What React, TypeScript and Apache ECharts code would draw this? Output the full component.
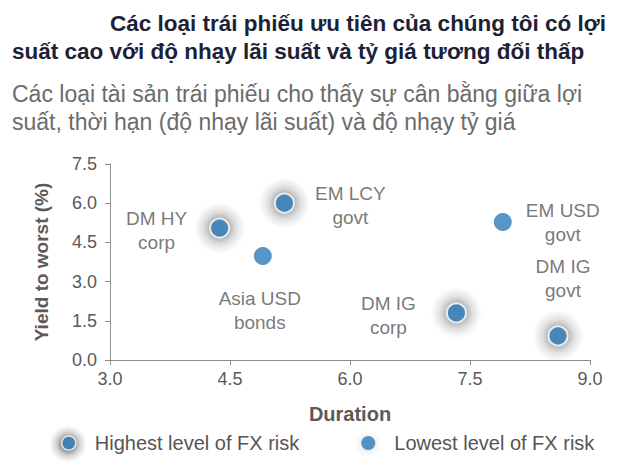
import React, { useEffect, useRef } from "react";
import * as echarts from "echarts";

const titleLines = [
  "Các loại trái phiếu ưu tiên của chúng tôi có lợi",
  "suất cao với độ nhạy lãi suất và tỷ giá tương đối thấp",
];
const subtitleLines = [
  "Các loại tài sản trái phiếu cho thấy sự cân bằng giữa lợi",
  "suất, thời hạn (độ nhạy lãi suất) và độ nhạy tỷ giá",
];

const highNames = ["DM HY\ncorp", "EM LCY\ngovt", "DM IG\ncorp", "DM IG\ngovt"];
const highDuration = [4.37, 5.18, 7.33, 8.6];
const highYield = [5.05, 6.0, 1.8, 0.92];

const lowNames = ["Asia USD\nbonds", "EM USD\ngovt"];
const lowDuration = [4.91, 7.91];
const lowYield = [3.98, 5.28];

const highLabelOffsets = [
  [-63, 2],
  [66, 2],
  [-68, 3],
  [5, -57],
];
const lowLabelOffsets = [
  [-3, 55],
  [60, 0],
];

const seriesNames = ["Highest level of FX risk", "Lowest level of FX risk"];

const FONT = "'Liberation Sans', Arial, sans-serif";
const BLUE = "#2e7cba";

function glow(alpha: number) {
  return new echarts.graphic.RadialGradient(0.5, 0.5, 0.5, [
    { offset: 0, color: `rgba(85,85,85,${alpha})` },
    { offset: 0.35, color: `rgba(85,85,85,${alpha})` },
    { offset: 0.62, color: `rgba(120,120,120,${alpha * 0.5})` },
    { offset: 1, color: "rgba(160,160,160,0)" },
  ]);
}

export default function App() {
  const ref = useRef<HTMLDivElement>(null);
  useEffect(() => {
    if (!ref.current) return;
    const chart = echarts.init(ref.current, undefined, { renderer: "svg" });
    const labelStyle = {
      show: true,
      position: "inside",
      align: "center",
      verticalAlign: "middle",
      fontSize: 19,
      lineHeight: 24,
      color: "#555555",
      fontFamily: FONT,
    };
    const highData = highNames.map((n, i) => ({
      name: n,
      value: [highDuration[i], highYield[i]],
      label: { ...labelStyle, offset: highLabelOffsets[i], formatter: n },
    }));
    const lowData = lowNames.map((n, i) => ({
      name: n,
      value: [lowDuration[i], lowYield[i]],
      label: { ...labelStyle, offset: lowLabelOffsets[i], formatter: n },
    }));
    const glowData = highDuration.map((d, i) => [d, highYield[i]]);
    chart.setOption({
      animation: false,
      backgroundColor: "#ffffff",
      textStyle: { fontFamily: FONT },
      graphic: [
        {
          type: "text",
          left: 110,
          top: 12,
          style: { text: titleLines[0], font: `bold 22.5px ${FONT}`, fill: "#1c2235" },
        },
        {
          type: "text",
          left: 12,
          top: 40,
          style: { text: titleLines[1], font: `bold 22.5px ${FONT}`, fill: "#1c2235" },
        },
        {
          type: "text",
          left: 12,
          top: 82,
          style: { text: subtitleLines[0], font: `23px ${FONT}`, fill: "#6b6b6b" },
        },
        {
          type: "text",
          left: 12,
          top: 110,
          style: { text: subtitleLines[1], font: `23px ${FONT}`, fill: "#6b6b6b" },
        },
        {
          type: "circle",
          shape: { cx: 68, cy: 444, r: 19 },
          style: { fill: glow(0.65) },
          silent: true,
        },
        {
          type: "circle",
          shape: { cx: 368, cy: 444, r: 14 },
          style: { fill: glow(0.15) },
          silent: true,
        },
      ],
      grid: { left: 110, right: 40, top: 164, bottom: 113 },
      legend: {
        top: 433,
        left: 61,
        padding: 0,
        itemWidth: 14,
        itemHeight: 14,
        itemGap: 62,
        icon: "circle",
        textStyle: { fontSize: 20, color: "#555555", fontFamily: FONT, padding: [0, 0, 0, 14] },
        data: [
          {
            name: seriesNames[0],
            itemStyle: { color: BLUE, borderColor: "#ffffff", borderWidth: 1.5 },
          },
          {
            name: seriesNames[1],
            itemStyle: { color: BLUE },
          },
        ],
      },
      xAxis: {
        type: "value",
        min: 3,
        max: 9,
        interval: 1.5,
        name: "Duration",
        nameLocation: "middle",
        nameGap: 44,
        nameTextStyle: { fontSize: 20, fontWeight: "bold", color: "#5a5a5a", fontFamily: FONT },
        axisLine: { show: true, lineStyle: { color: "#8c8c8c" } },
        axisTick: { show: true, length: 5, lineStyle: { color: "#8c8c8c" } },
        axisLabel: {
          fontSize: 18,
          color: "#595959",
          margin: 10,
          formatter: (v: number) => v.toFixed(1),
        },
        splitLine: { show: false },
      },
      yAxis: {
        type: "value",
        min: 0,
        max: 7.5,
        interval: 1.5,
        name: "Yield to worst (%)",
        nameLocation: "middle",
        nameGap: 59,
        nameRotate: 90,
        nameTextStyle: { fontSize: 19, fontWeight: "bold", color: "#5a5a5a", fontFamily: FONT },
        axisLine: { show: true, lineStyle: { color: "#8c8c8c" } },
        axisTick: { show: true, length: 5, lineStyle: { color: "#8c8c8c" } },
        axisLabel: {
          fontSize: 18,
          color: "#595959",
          margin: 13,
          formatter: (v: number) => v.toFixed(1),
        },
        splitLine: { show: false },
      },
      series: [
        {
          name: "glow",
          type: "scatter",
          symbolSize: 52,
          silent: true,
          z: 1,
          itemStyle: { color: glow(0.6) },
          data: glowData,
        },
        {
          name: seriesNames[0],
          type: "scatter",
          symbolSize: 19,
          z: 3,
          itemStyle: {
            color: BLUE,
            borderColor: "#ffffff",
            borderWidth: 2,
          },
          data: highData,
        },
        {
          name: seriesNames[1],
          type: "scatter",
          symbolSize: 18,
          z: 3,
          itemStyle: { color: BLUE },
          data: lowData,
        },
      ],
    });
    return () => chart.dispose();
  }, []);
  return (
    <div
      ref={ref}
      style={{ position: "absolute", left: 0, top: 0, width: 630, height: 473 }}
    />
  );
}
